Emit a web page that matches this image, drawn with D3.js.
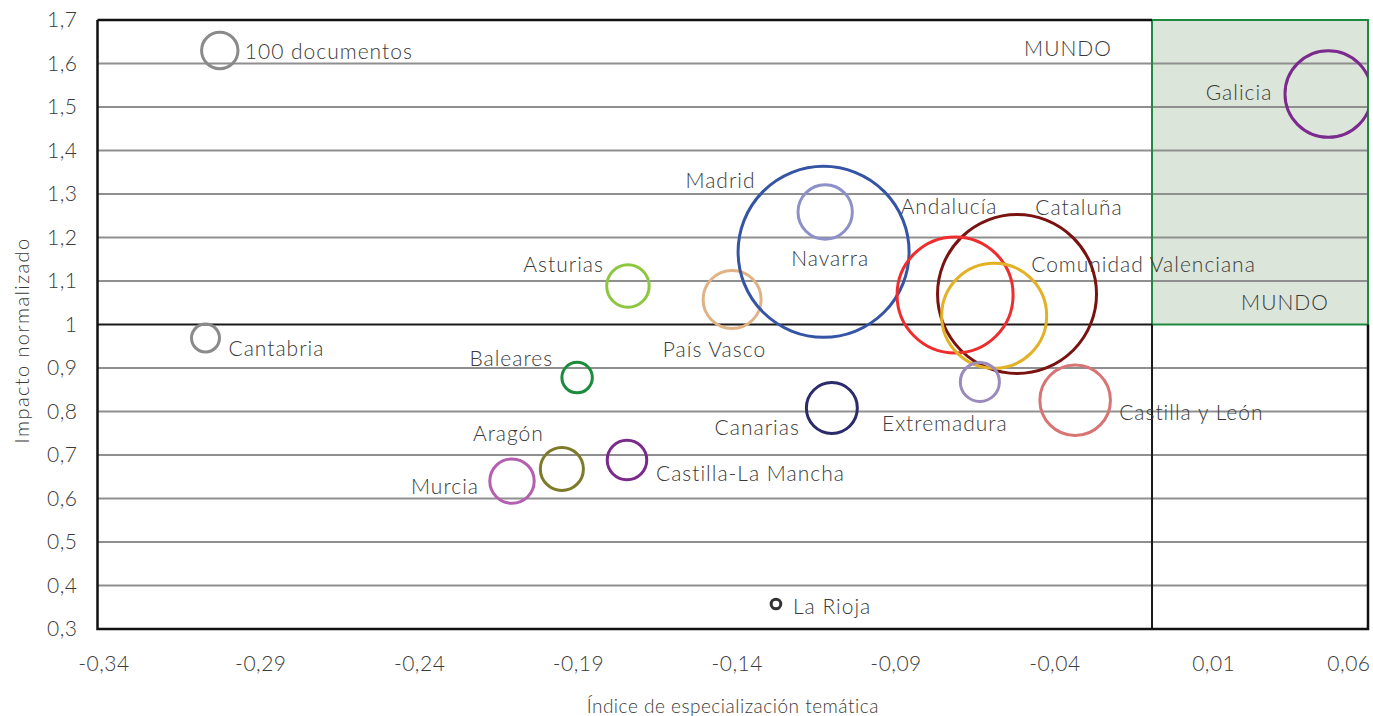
<!DOCTYPE html>
<html>
<head>
<meta charset="utf-8">
<script src="https://cdn.jsdelivr.net/npm/d3@7/dist/d3.min.js"></script>
<style>
  html, body { margin: 0; padding: 0; background: #ffffff; }
  svg { display: block; }
  text { font-family: "Lato", "Open Sans", sans-serif; font-weight: 300; fill: #3a3a3a; }
</style>
</head>
<body>
<svg id="chart" width="1373" height="716"></svg>
<script>
// ---------- DATA ----------
const regions = ["100 documentos", "Cantabria", "Asturias", "Baleares", "Aragón", "Murcia",
  "Castilla-La Mancha", "País Vasco", "Madrid", "Navarra", "Canarias", "La Rioja",
  "Cataluña", "Andalucía", "Comunidad Valenciana", "Extremadura", "Castilla y León", "Galicia"];
// Índice de especialización temática
const especializacion = [-0.3015, -0.306, -0.173, -0.189, -0.1938, -0.2095,
  -0.1733, -0.1402, -0.1114, -0.1109, -0.1088, -0.1264,
  -0.0505, -0.070, -0.0577, -0.0622, -0.0322, 0.0475];
// Impacto normalizado
const impacto = [1.630, 0.969, 1.0885, 0.878, 0.668, 0.640,
  0.6885, 1.0575, 1.167, 1.2586, 0.808, 0.3575,
  1.070, 1.068, 1.020, 0.868, 0.826, 1.530];
// Número de documentos (tamaño de la burbuja)
const documentos = [100, 59, 136, 70, 140, 149,
  118, 254, 2207, 223, 196, 7,
  1908, 1016, 832, 115, 376, 566];
const colores = ["#8a8a8a", "#8a8a8a", "#8dc63f", "#1a8c3c", "#7d7a2a", "#b45fb0",
  "#7a2a8a", "#dfb386", "#3554a5", "#8e90c8", "#2b2a6b", "#333333",
  "#7a1212", "#ee2e2e", "#e3b125", "#9a8abd", "#d87474", "#7b2a8e"];

const xTicks = [-0.34, -0.29, -0.24, -0.19, -0.14, -0.09, -0.04, 0.01, 0.06];
const yTicks = [0.3, 0.4, 0.5, 0.6, 0.7, 0.8, 0.9, 1.0, 1.1, 1.2, 1.3, 1.4, 1.5, 1.6, 1.7];
const mundoX = -0.008;   // referencia mundial en el eje X
const mundoY = 1.0;      // referencia mundial en el eje Y
const xTitle = "Índice de especialización temática";
const yTitle = "Impacto normalizado";

// ---------- LAYOUT (label offsets in px, not data) ----------
const labelLayout = [
  ["start", 25, 0], ["start", 23, 10], ["end", -24, -23], ["end", -24, -20], ["end", -18, -36], ["end", -33, 4],
  ["start", 29, 12], ["end", 34, 49], ["end", -68, -72], ["middle", 5, 45], ["end", -32, 18], ["start", 17, 2],
  ["middle", 62, -88], ["middle", -6, -89], ["start", 37, -52], ["middle", -35, 41], ["start", 44, 11], ["end", -56, -2]
];

// ---------- CHART ----------
const svg = d3.select("#chart");
const pLeft = 97.5, pRight = 1368, pTop = 20, pBottom = 629;
const fontStack = '"Lato", "Open Sans", sans-serif';

const x = d3.scaleLinear().domain([-0.34, 0.06]).range([pLeft, pRight]);
const y = d3.scaleLinear().domain([0.3, 1.7]).range([pBottom, pTop]);
const r = d3.scaleSqrt().domain([0, 100]).range([0, 18.2]);

svg.append("defs").append("clipPath").attr("id", "plotClip")
  .append("rect").attr("x", pLeft).attr("y", pTop).attr("width", pRight - pLeft).attr("height", pBottom - pTop);

// green "MUNDO" quadrant
svg.append("rect")
  .attr("x", x(mundoX)).attr("y", y(1.7))
  .attr("width", x(0.06) - x(mundoX)).attr("height", y(mundoY) - y(1.7))
  .attr("fill", "#dce5d9");

// gridlines
svg.append("g").selectAll("line")
  .data(yTicks.filter(d => d > 0.3 && d < 1.7 && Math.abs(d - mundoY) > 1e-9))
  .join("line")
  .attr("x1", pLeft).attr("x2", pRight)
  .attr("y1", d => y(d)).attr("y2", d => y(d))
  .attr("stroke", "#8f8f8f").attr("stroke-width", 2);

// green border of quadrant
svg.append("rect")
  .attr("x", x(mundoX)).attr("y", y(1.7))
  .attr("width", x(0.06) - x(mundoX)).attr("height", y(mundoY) - y(1.7))
  .attr("fill", "none").attr("stroke", "#1e8a40").attr("stroke-width", 2);

// reference lines (world)
svg.append("line").attr("x1", pLeft).attr("x2", x(mundoX))
  .attr("y1", y(mundoY)).attr("y2", y(mundoY)).attr("stroke", "#1a1a1a").attr("stroke-width", 2);
svg.append("line").attr("x1", x(mundoX)).attr("x2", x(mundoX))
  .attr("y1", y(mundoY)).attr("y2", pBottom).attr("stroke", "#1a1a1a").attr("stroke-width", 2);

// plot border (axes)
svg.append("path")
  .attr("d", `M${pLeft},${pTop}H${x(mundoX)}M${pLeft},${pTop}V${pBottom}H${pRight}V${y(mundoY)}`)
  .attr("fill", "none").attr("stroke", "#111").attr("stroke-width", 2.5);

// axis tick labels via d3 axes
const fmtX = d => d3.format(".2f")(d).replace(".", ",").replace("−", "-");
const fmtY = d => (Math.abs(d - 1) < 1e-9 ? "1" : d3.format(".1f")(d).replace(".", ","));

const xAxis = svg.append("g").attr("transform", `translate(0,${pBottom})`)
  .call(d3.axisBottom(x).tickValues(xTicks).tickFormat(fmtX).tickSize(0).tickPadding(27));
xAxis.select(".domain").remove();
xAxis.selectAll("text").attr("font-size", 21).attr("fill", "#3a3a3a")
  .style("font-family", fontStack).attr("letter-spacing", 0.5)
  .attr("text-anchor", (d, i) => i === xTicks.length - 1 ? "end" : "middle")
  .attr("dx", (d, i) => i === 0 ? 6 : (i === xTicks.length - 1 ? 2 : 4));

const yAxis = svg.append("g").attr("transform", `translate(${pLeft},0)`)
  .call(d3.axisLeft(y).tickValues(yTicks).tickFormat(fmtY).tickSize(0).tickPadding(20));
yAxis.select(".domain").remove();
yAxis.selectAll("text").attr("font-size", 21).attr("fill", "#3a3a3a")
  .style("font-family", fontStack).attr("letter-spacing", 0.5);

// axis titles
svg.append("text")
  .attr("x", (pLeft + pRight) / 2).attr("y", 705)
  .attr("text-anchor", "middle").attr("dominant-baseline", "central")
  .attr("font-size", 19).attr("letter-spacing", 0.5)
  .text(xTitle);
svg.append("text")
  .attr("transform", `translate(21,${(pTop + pBottom) / 2 + 16}) rotate(-90)`)
  .attr("text-anchor", "middle").attr("dominant-baseline", "central")
  .attr("font-size", 20).attr("letter-spacing", 1.4)
  .text(yTitle);

// bubbles
const data = regions.map((name, i) => ({
  name, x: especializacion[i], y: impacto[i], n: documentos[i], color: colores[i], lab: labelLayout[i]
}));

svg.append("g").attr("clip-path", "url(#plotClip)")
  .selectAll("circle").data(data).join("circle")
  .attr("cx", d => x(d.x)).attr("cy", d => y(d.y)).attr("r", d => r(d.n))
  .attr("fill", "none").attr("stroke", d => d.color).attr("stroke-width", 3);

// labels
svg.append("g").selectAll("text").data(data).join("text")
  .attr("x", d => x(d.x) + d.lab[1]).attr("y", d => y(d.y) + d.lab[2])
  .attr("text-anchor", d => d.lab[0]).attr("dominant-baseline", "central")
  .attr("font-size", 21).attr("letter-spacing", 1)
  .text(d => d.name);

// MUNDO annotations
svg.append("text").attr("x", x(mundoX) - 84).attr("y", y(1.7) + 27)
  .attr("text-anchor", "middle").attr("dominant-baseline", "central")
  .attr("font-size", 21).attr("letter-spacing", 1).text("MUNDO");
svg.append("text").attr("x", x(0.06) - 83).attr("y", y(mundoY) - 23)
  .attr("text-anchor", "middle").attr("dominant-baseline", "central")
  .attr("font-size", 21).attr("letter-spacing", 1).text("MUNDO");
</script>
</body>
</html>
